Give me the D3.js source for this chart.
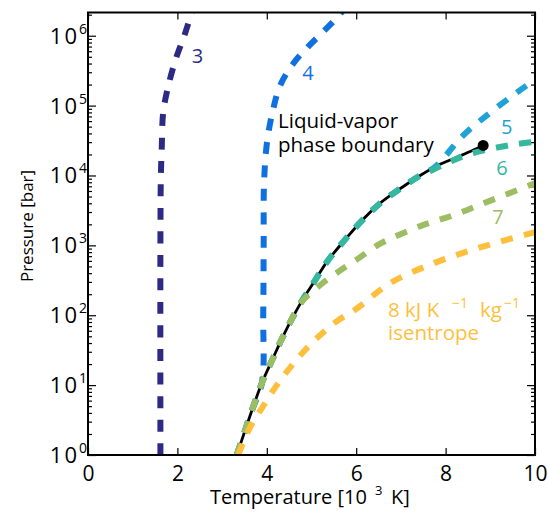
<!DOCTYPE html>
<html>
<head>
<meta charset="utf-8">
<script src="https://d3js.org/d3.v7.min.js"></script>
<style>
  body { margin: 0; background: #fff; }
  text { font-family: "Open Sans", sans-serif; }
  .tick line { stroke: #000; stroke-width: 1.2px; }
</style>
</head>
<body>
<svg width="548" height="518"></svg>
<script>
// temperature in 10^3 K, pressure in bar
var boundary = [[3.33,1],[3.67,4.4],[3.89,10.7],[4.12,22.8],[4.30,41],[4.52,79],[4.80,166],
  [5.08,316],[5.34,575],[5.68,1070],[6.09,2130],[6.53,3980],[6.98,6460],[7.43,10000],
  [7.81,13800],[8.25,18200],[8.61,22900],[8.84,26900]];
var criticalPoint = [8.84, 26900];

var isen3 = [[1.62,1],[1.62,1000],[1.63,1e4],[1.65,25100],[1.68,77600],[1.77,162000],
  [1.95,437000],[2.17,1.07e6],[2.35,2.5e6]];
var isen4 = [[3.33,1],[3.67,4.4],[3.89,10.7],[3.92,100],[3.93,1000],[3.94,8510],[4.01,31600],
  [4.15,93300],[4.30,195000],[4.59,398000],[4.92,692000],[5.28,1.17e6],[5.64,2.04e6],[5.85,3.16e6]];
var isen5 = [[3.33,1],[3.67,4.4],[3.89,10.7],[4.12,22.8],[4.30,41],[4.52,79],[4.80,166],
  [5.08,316],[5.34,575],[5.68,1070],[6.09,2130],[6.53,3980],[6.98,6460],[7.43,10000],
  [7.76,13200],[8.39,37200],[9.0,79400],[9.6,155000],[10,234000]];
var isen6 = [[3.33,1],[3.67,4.4],[3.89,10.7],[4.12,22.8],[4.30,41],[4.52,79],[4.80,166],
  [5.08,316],[5.34,575],[5.68,1070],[6.09,2130],[6.53,3980],[6.98,6460],[7.43,10000],
  [7.65,11500],[8.1,15800],[8.55,20400],[9.15,25100],[9.6,28200],[10,30200]];
var isen7 = [[3.33,1],[3.67,4.4],[3.89,10.7],[4.12,22.8],[4.30,41],[4.52,79],[4.76,150],
  [5.19,269],[5.64,437],[6.04,646],[6.47,1000],[6.82,1290],[7.49,1950],[8.17,2690],
  [8.84,3980],[10,7760]];
var isen8 = [[3.36,1],[3.62,2.45],[3.89,4.7],[4.18,9.1],[4.47,16.2],[4.81,29.5],[5.15,49],
  [5.53,79],[6.02,126],[6.76,288],[7.72,550],[8.77,933],[10,1550]];

var isentropes = [isen3, isen4, isen5, isen6, isen7, isen8];
var isenColors = ["#2c2a85", "#1070e0", "#1fa2d6", "#36b89e", "#9cbd62", "#fdbf3c"];
var isenLabels = ["3", "4", "5", "6", "7"];
// label baseline positions (T, P)
var labelAt = [[2.45, 4.1e5], [4.92, 2.3e5], [9.37, 3.9e4], [9.26, 1.03e4], [9.17, 2000]];

var xTicks = [0, 2, 4, 6, 8, 10];
var yExps = [0, 1, 2, 3, 4, 5, 6];

var svg = d3.select("svg"),
    pLeft = 88, pRight = 535, pTop = 12.5, pBottom = 455;

var x = d3.scaleLinear().domain([0, 10]).range([pLeft, pRight]);
var y = d3.scaleLog().domain([1, 2.15e6]).range([pBottom, pTop]);

svg.append("defs").append("clipPath").attr("id", "plot")
  .append("rect").attr("x", pLeft).attr("y", pTop)
  .attr("width", pRight - pLeft).attr("height", pBottom - pTop);

var minor = [];
yExps.forEach(function (k) {
  for (var m = 2; m <= 9; m++) {
    var v = m * Math.pow(10, k);
    if (v < 2.15e6) minor.push(v);
  }
});

// axes, ticks pointing inwards
svg.append("g").attr("transform", "translate(0," + pBottom + ")")
  .call(d3.axisBottom(x).tickValues(xTicks).tickSize(-7).tickPadding(11))
  .call(function (g) { g.select(".domain").remove(); })
  .selectAll("text").attr("font-size", 21).attr("fill", "#000");
svg.append("g").attr("transform", "translate(0," + pTop + ")")
  .call(d3.axisTop(x).tickValues(xTicks).tickSize(-7).tickFormat(""))
  .call(function (g) { g.select(".domain").remove(); });

[[pLeft, d3.axisLeft], [pRight, d3.axisRight]].forEach(function (a) {
  svg.append("g").attr("transform", "translate(" + a[0] + ",0)")
    .call(a[1](y).tickValues(yExps.map(function (k) { return Math.pow(10, k); }))
      .tickSize(-8).tickFormat(""))
    .call(function (g) { g.select(".domain").remove(); });
  svg.append("g").attr("transform", "translate(" + a[0] + ",0)")
    .call(a[1](y).tickValues(minor).tickSize(-4).tickFormat(""))
    .call(function (g) { g.select(".domain").remove(); });
});

// y tick labels as 10^k
var yl = svg.append("g").selectAll("text").data(yExps).enter().append("text")
  .attr("y", function (k) { return y(Math.pow(10, k)) + 8; })
  .attr("font-size", 22);
yl.append("tspan").attr("letter-spacing", 2).text("10");
yl.append("tspan").attr("dy", -10).attr("font-size", 14)
  .text(function (k) { return k; });
yl.each(function () {
  var w = this.getBBox().width;
  d3.select(this).attr("x", 87 - w);
});

var line = d3.line()
  .x(function (d) { return x(d[0]); })
  .y(function (d) { return y(d[1]); })
  .curve(d3.curveCatmullRom.alpha(0.5));

var plot = svg.append("g").attr("clip-path", "url(#plot)");

plot.append("path").datum(boundary)
  .attr("d", line).attr("fill", "none")
  .attr("stroke", "#000").attr("stroke-width", 2.8);

plot.selectAll(".isen").data(isentropes).enter().append("path")
  .attr("class", "isen")
  .attr("d", line).attr("fill", "none")
  .attr("stroke", function (d, i) { return isenColors[i]; })
  .attr("stroke-width", 6)
  .attr("stroke-dasharray", "12,11.5");

svg.append("circle")
  .attr("cx", x(criticalPoint[0])).attr("cy", y(criticalPoint[1]))
  .attr("r", 5.5).attr("fill", "#000");

svg.append("rect").attr("x", pLeft).attr("y", pTop)
  .attr("width", pRight - pLeft).attr("height", pBottom - pTop)
  .attr("fill", "none").attr("stroke", "#000").attr("stroke-width", 2);

// curve labels
svg.selectAll(".lab").data(isenLabels).enter().append("text")
  .attr("x", function (d, i) { return x(labelAt[i][0]); })
  .attr("y", function (d, i) { return y(labelAt[i][1]); })
  .attr("text-anchor", "middle").attr("font-size", 20)
  .attr("fill", function (d, i) { return isenColors[i]; })
  .text(function (d) { return d; });

var t8 = svg.append("text").attr("y", 317)
  .attr("font-size", 20.5).attr("fill", isenColors[5]);
t8.append("tspan").attr("x", 388).text("8 kJ K");
t8.append("tspan").attr("x", 452).attr("dy", -9).attr("font-size", 14).text("\u22121");
t8.append("tspan").attr("x", 480).attr("dy", 9).text("kg");
t8.append("tspan").attr("x", 504).attr("dy", -9).attr("font-size", 14).text("\u22121");
svg.append("text").attr("x", 388).attr("y", 340)
  .attr("font-size", 20.5).attr("fill", isenColors[5]).text("isentrope");

svg.append("text").attr("x", 278).attr("y", 128).attr("font-size", 20.5).text("Liquid-vapor");
svg.append("text").attr("x", 278).attr("y", 152).attr("font-size", 20.5).text("phase boundary");

// axis titles
var xt = svg.append("text").attr("y", 504).attr("font-size", 20);
xt.append("tspan").attr("x", 210).text("Temperature [10");
xt.append("tspan").attr("x", 375).attr("dy", -9).attr("font-size", 13).text("3");
xt.append("tspan").attr("x", 391).attr("dy", 9).text("K]");

svg.append("text").attr("transform", "translate(33,226) rotate(-90)")
  .attr("text-anchor", "middle").attr("font-size", 17).text("Pressure [bar]");
</script>
</body>
</html>
